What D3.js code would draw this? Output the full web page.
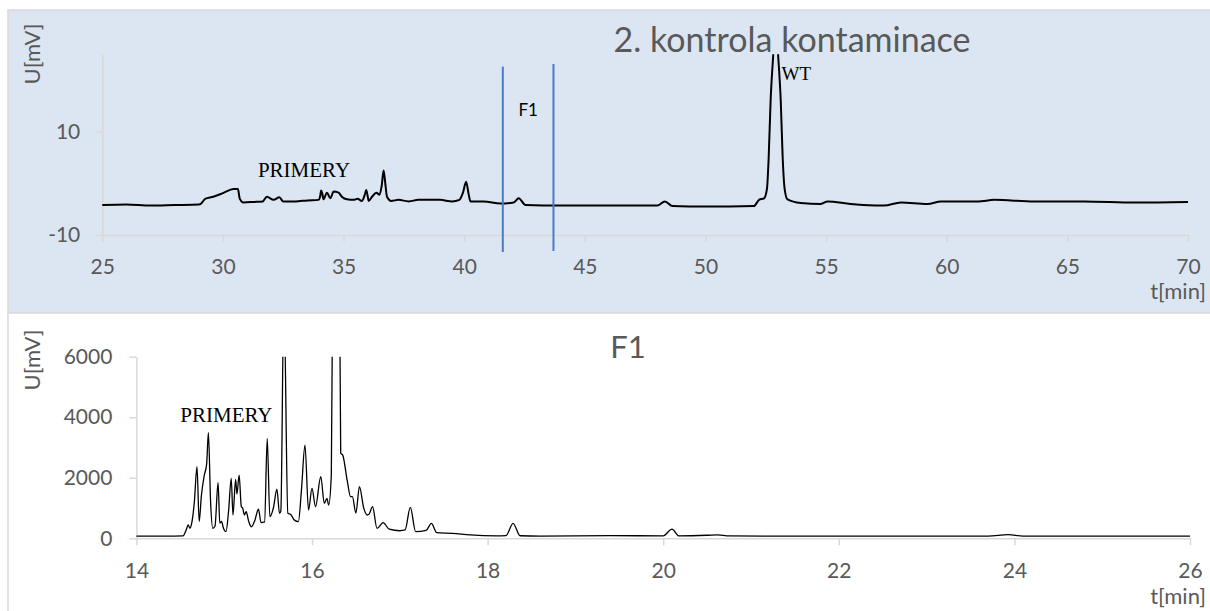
<!DOCTYPE html>
<html>
<head>
<meta charset="utf-8">
<script src="https://cdn.jsdelivr.net/npm/d3@7"></script>
<style>
  html, body { margin: 0; padding: 0; background: #ffffff; }
  svg { display: block; }
</style>
</head>
<body>
<svg id="chart" width="1210" height="611"></svg>
<script>
// ---- Panel 1: contamination check, 25–70 min ----
const topTitle = "2. kontrola kontaminace";
const topXTicks = [25, 30, 35, 40, 45, 50, 55, 60, 65, 70];
const topYTicks = [-10, 10];
const topXDomain = [25, 70];
const topYDomain = [-10, 25];
// detector signal, [time (min), U (mV)]
const topSignal = [
  [25.0, -4.2], [26.0, -4.1], [27.0, -4.3], [28.0, -4.2], [29.0, -4.1], [29.1, -3.9],
  [29.26, -3.0], [29.6, -2.6], [30.0, -1.9], [30.44, -1.1], [30.62, -1.1], [30.7, -3.0],
  [30.85, -3.7], [31.3, -3.6], [31.65, -3.5], [31.82, -2.6], [32.1, -3.2], [32.34, -2.7],
  [32.5, -3.5], [33.0, -3.5], [33.5, -3.3], [33.96, -3.2], [34.03, -2.5], [34.07, -1.4],
  [34.12, -2.0], [34.17, -3.1], [34.31, -1.8], [34.45, -2.9], [34.59, -1.6], [34.79, -1.8],
  [34.93, -2.6], [35.14, -3.1], [35.41, -3.2], [35.58, -3.0], [35.76, -3.4], [35.88, -2.2],
  [35.94, -1.3], [36.0, -2.5], [36.04, -3.4], [36.18, -2.6], [36.36, -1.8], [36.49, -2.2],
  [36.58, -0.5], [36.66, 2.5], [36.74, -0.5], [36.8, -2.6], [36.97, -3.4], [37.28, -3.2],
  [37.7, -3.5], [38.1, -3.2], [39.0, -3.2], [39.5, -3.5], [39.8, -3.2], [39.95, -1.8],
  [40.08, 0.3], [40.18, -2.0], [40.26, -3.5], [40.81, -3.5], [41.5, -3.9], [42.05, -3.7],
  [42.26, -2.9], [42.54, -4.2], [44.0, -4.3], [46.0, -4.3], [48.0, -4.3], [48.32, -3.5],
  [48.63, -4.4], [50.0, -4.5], [52.01, -4.4], [52.22, -3.2], [52.43, -2.9], [52.55, -1.0],
  [52.62, 5.0], [52.7, 16.0], [52.81, 25.0], [52.91, 33.0], [53.01, 25.0], [53.12, 16.0],
  [53.2, 5.0], [53.28, -1.0], [53.4, -3.1], [53.95, -3.8], [54.78, -4.0], [55.06, -3.5],
  [56.02, -4.0], [57.4, -4.3], [58.1, -3.7], [59.2, -4.0], [59.76, -3.5], [61.3, -3.5],
  [61.97, -3.2], [63.63, -3.5], [65.7, -3.5], [67.8, -3.7], [70.0, -3.6]
];
// collected fraction F1: start / end times and the vertical span of each marker (mV)
const fractionTimes = [41.6, 43.7];
const fractionSpans = [[-13.3, 22.6], [-13.1, 23.1]];
const fractionLabel = "F1";
const topPeakLabels = [
  { text: "PRIMERY", t: 31.45, v: 1.2, size: 21 },
  { text: "WT", t: 53.15, v: 20.0, size: 19 }
];

// ---- Panel 2: fraction F1, 14–26 min ----
const bottomTitle = "F1";
const bottomXTicks = [14, 16, 18, 20, 22, 24, 26];
const bottomYTicks = [0, 2000, 4000, 6000];
const bottomXDomain = [14, 26];
const bottomYDomain = [0, 6000];
const bottomSignal = [
  [14.0, 70], [14.3, 72], [14.53, 80], [14.57, 300], [14.59, 440], [14.61, 330], [14.63, 500],
  [14.66, 1200], [14.69, 2370], [14.715, 550], [14.74, 1400], [14.77, 2040], [14.8, 2450],
  [14.82, 3490], [14.845, 1200], [14.87, 330], [14.895, 400], [14.93, 1840], [14.95, 500],
  [14.97, 560], [14.99, 350], [15.02, 220], [15.05, 900], [15.08, 1980], [15.1, 770],
  [15.13, 1950], [15.145, 1465], [15.17, 2090], [15.195, 1045], [15.21, 1000], [15.23, 770],
  [15.25, 880], [15.28, 550], [15.31, 380], [15.35, 600], [15.39, 960], [15.42, 515],
  [15.46, 540], [15.49, 3300], [15.52, 715], [15.56, 1000], [15.6, 1620], [15.63, 825],
  [15.645, 900], [15.68, 8000], [15.725, 830], [15.76, 780], [15.8, 600], [15.845, 550],
  [15.88, 1600], [15.92, 3080], [15.96, 935], [16.0, 1650], [16.04, 1045], [16.1, 2040],
  [16.14, 1155], [16.17, 1320], [16.19, 1100], [16.22, 2090], [16.245, 12000], [16.3, 14000],
  [16.327, 2810], [16.35, 2750], [16.4, 1925], [16.44, 1375], [16.46, 1375], [16.5, 835],
  [16.54, 1705], [16.59, 990], [16.63, 770], [16.65, 800], [16.69, 1045], [16.74, 330],
  [16.81, 515], [16.88, 300], [17.0, 250], [17.06, 275], [17.12, 1025], [17.18, 220],
  [17.3, 260], [17.36, 495], [17.42, 185], [17.6, 165], [17.8, 110], [18.1, 80], [18.21, 90],
  [18.29, 495], [18.37, 85], [18.6, 75], [19.4, 90], [20.0, 80], [20.1, 300], [20.18, 80],
  [20.5, 100], [20.62, 115], [20.75, 80], [21.5, 70], [23.7, 75], [23.93, 120], [24.1, 75],
  [26.0, 70]
];
const bottomPeakLabels = [
  { text: "PRIMERY", t: 14.5, v: 3830, size: 21 }
];

const yAxisTitle = "U[mV]";
const xAxisTitle = "t[min]";

// ---- shared styling ----
const sans = "Lato, 'Open Sans', sans-serif";
const serif = "'Liberation Serif', 'Times New Roman', serif";
const labelGrey = "#595959";
const axisGrey = "#d9d9d9";

const svg = d3.select("#chart");
const defs = svg.append("defs");

function drawPanel(cfg) {
  const g = svg.append("g");

  // panel frame
  g.append("rect")
    .attr("x", cfg.frame.x).attr("y", cfg.frame.y)
    .attr("width", cfg.frame.w).attr("height", cfg.frame.h)
    .attr("fill", cfg.fill).attr("stroke", axisGrey).attr("stroke-width", 1.5);

  const x = d3.scaleLinear().domain(cfg.xDomain).range([cfg.plot.x0, cfg.plot.x1]);
  const y = d3.scaleLinear().domain(cfg.yDomain).range([cfg.plot.y1, cfg.plot.y0]);
  const plain = d => String(d);

  // axes
  const xAxis = g.append("g")
    .attr("transform", `translate(0,${cfg.plot.y1})`)
    .call(d3.axisBottom(x).tickValues(cfg.xTicks).tickFormat(plain)
      .tickSize(7).tickSizeOuter(0).tickPadding(cfg.xPad));
  const yAxis = g.append("g")
    .attr("transform", `translate(${cfg.plot.x0},0)`)
    .call(d3.axisLeft(y).tickValues(cfg.yTicks).tickFormat(plain)
      .tickSize(7).tickSizeOuter(0).tickPadding(cfg.yPad));
  [xAxis, yAxis].forEach(a => {
    a.select(".domain").attr("stroke", axisGrey).attr("stroke-width", 1.5);
    a.selectAll(".tick line").attr("stroke", axisGrey).attr("stroke-width", 1.5);
    a.selectAll(".tick text").attr("fill", labelGrey)
      .style("font-family", sans).style("font-size", "21px");
  });

  // signal, clipped to the plotting area
  const clipId = cfg.id + "-clip";
  defs.append("clipPath").attr("id", clipId)
    .append("rect")
    .attr("x", cfg.plot.x0 - 2).attr("y", cfg.plot.y0)
    .attr("width", cfg.plot.x1 - cfg.plot.x0 + 6).attr("height", cfg.plot.y1 - cfg.plot.y0 + 2);

  const line = d3.line()
    .x(d => x(d[0])).y(d => y(d[1]))
    .curve(d3.curveMonotoneX);
  g.append("path")
    .datum(cfg.signal)
    .attr("clip-path", `url(#${clipId})`)
    .attr("fill", "none").attr("stroke", "#000").attr("stroke-width", cfg.lineWidth)
    .attr("stroke-linejoin", "round")
    .attr("d", line);

  // peak annotations
  g.selectAll("text.peak").data(cfg.peakLabels).enter().append("text")
    .attr("class", "peak")
    .attr("x", d => x(d.t)).attr("y", d => y(d.v))
    .attr("fill", "#000")
    .style("font-family", serif).style("font-size", d => d.size + "px")
    .text(d => d.text);

  // panel title
  g.append("text")
    .attr("x", cfg.titlePos[0]).attr("y", cfg.titlePos[1])
    .attr("text-anchor", "middle").attr("fill", labelGrey)
    .style("font-family", sans).style("font-size", cfg.titleSize + "px")
    .text(cfg.title);

  // axis titles
  g.append("text")
    .attr("transform", `translate(${cfg.yTitlePos[0]},${cfg.yTitlePos[1]}) rotate(-90)`)
    .attr("text-anchor", "middle").attr("fill", labelGrey)
    .style("font-family", sans).style("font-size", "22px")
    .text(yAxisTitle);
  g.append("text")
    .attr("x", cfg.xTitlePos[0]).attr("y", cfg.xTitlePos[1])
    .attr("text-anchor", "end").attr("fill", labelGrey)
    .style("font-family", sans).style("font-size", "22px")
    .text(xAxisTitle);

  return { g, x, y };
}

// upper panel
const upper = drawPanel({
  id: "upper",
  frame: { x: 8, y: 10, w: 1210, h: 303 },
  fill: "#dce6f2",
  plot: { x0: 102.3, x1: 1188, y0: 54.2, y1: 235 },
  xDomain: topXDomain, yDomain: topYDomain,
  xTicks: topXTicks, yTicks: topYTicks,
  xPad: 17, yPad: 15,
  signal: topSignal, lineWidth: 2,
  peakLabels: topPeakLabels,
  title: topTitle, titlePos: [792, 52], titleSize: 34,
  yTitlePos: [40, 54], xTitlePos: [1206, 299]
});

// fraction markers
upper.g.selectAll("line.fraction").data(fractionTimes).enter().append("line")
  .attr("class", "fraction")
  .attr("x1", t => upper.x(t)).attr("x2", t => upper.x(t))
  .attr("y1", (t, i) => upper.y(fractionSpans[i][0]))
  .attr("y2", (t, i) => upper.y(fractionSpans[i][1]))
  .attr("stroke", "#4a7cc4").attr("stroke-width", 2);
upper.g.append("text")
  .attr("x", upper.x(d3.mean(fractionTimes)))
  .attr("y", 116)
  .attr("text-anchor", "middle").attr("fill", "#000")
  .style("font-family", sans).style("font-size", "17px")
  .text(fractionLabel);

// lower panel
drawPanel({
  id: "lower",
  frame: { x: 8, y: 313, w: 1210, h: 310 },
  fill: "#ffffff",
  plot: { x0: 136.4, x1: 1190, y0: 356.7, y1: 538.3 },
  xDomain: bottomXDomain, yDomain: bottomYDomain,
  xTicks: bottomXTicks, yTicks: bottomYTicks,
  xPad: 18, yPad: 17,
  signal: bottomSignal, lineWidth: 1.3,
  peakLabels: bottomPeakLabels,
  title: bottomTitle, titlePos: [628, 358], titleSize: 31,
  yTitlePos: [40, 360], xTitlePos: [1206, 604]
});
</script>
</body>
</html>
